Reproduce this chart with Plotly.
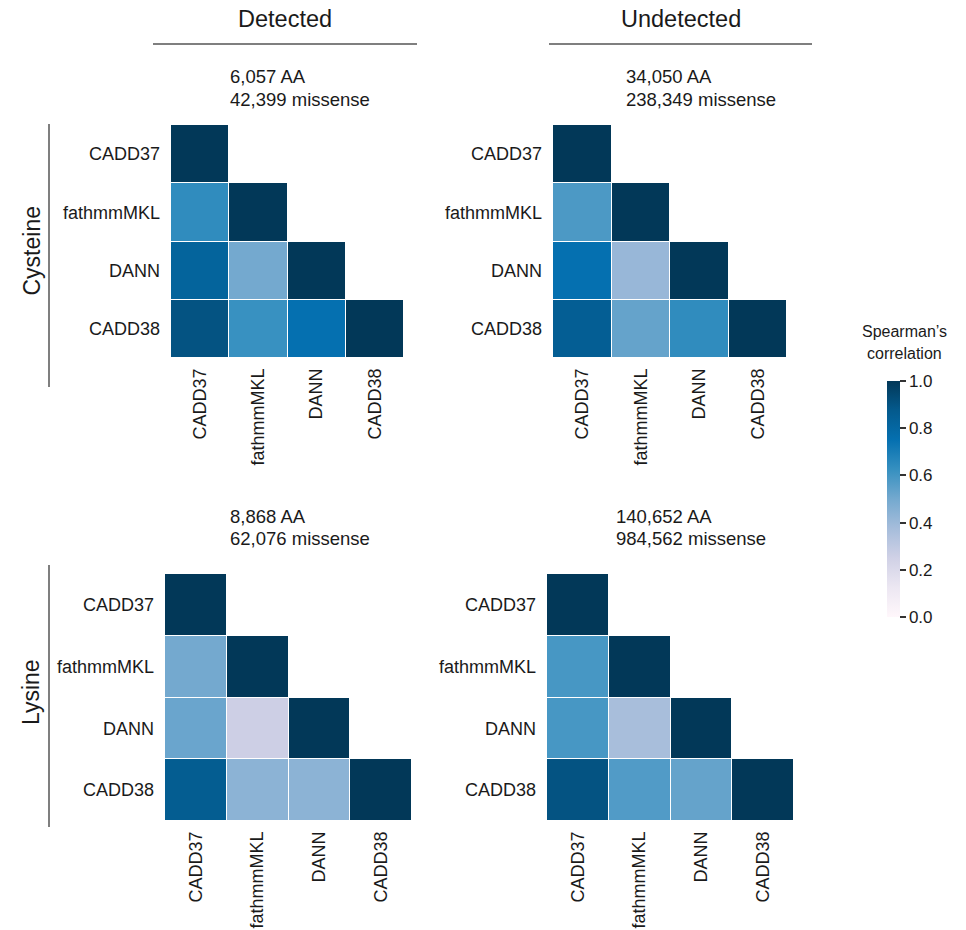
import plotly.graph_objects as go

# Scores compared in every panel (rows and columns in this order)
tools = ["CADD37", "fathmmMKL", "DANN", "CADD38"]

# Lower-triangular Spearman correlations between scores
cys_detected = [
    [1.00, None, None, None],
    [0.64, 1.00, None, None],
    [0.82, 0.50, 1.00, None],
    [0.90, 0.62, 0.75, 1.00],
]
cys_undetected = [
    [1.00, None, None, None],
    [0.58, 1.00, None, None],
    [0.75, 0.41, 1.00, None],
    [0.85, 0.53, 0.64, 1.00],
]
lys_detected = [
    [1.00, None, None, None],
    [0.50, 1.00, None, None],
    [0.52, 0.26, 1.00, None],
    [0.86, 0.44, 0.44, 1.00],
]
lys_undetected = [
    [1.00, None, None, None],
    [0.59, 1.00, None, None],
    [0.59, 0.37, 1.00, None],
    [0.90, 0.57, 0.53, 1.00],
]

col_titles = ["Detected", "Undetected"]
row_titles = ["Cysteine", "Lysine"]
counts = [
    ("6,057 AA", "42,399 missense"),
    ("34,050 AA", "238,349 missense"),
    ("8,868 AA", "62,076 missense"),
    ("140,652 AA", "984,562 missense"),
]
cbar_ticks = [0.0, 0.2, 0.4, 0.6, 0.8, 1.0]

W, H = 966, 930
FONT = "Liberation Sans, Arial, sans-serif"
INK = "#1a1a1a"

pubu = ["#fff7fb", "#ece7f2", "#d0d1e6", "#a6bddb", "#74a9cf",
        "#3690c0", "#0570b0", "#045a8d", "#023858"]
colorscale = [[i / (len(pubu) - 1), c] for i, c in enumerate(pubu)]


def px_x(v):
    return v / W


def px_y(v):
    return 1 - v / H


# Panel boxes in pixels: left, right, top, bottom
boxes = [
    (171, 404, 125, 358),
    (553, 787, 125, 358),
    (165, 412, 574, 821),
    (547, 794, 574, 821),
]
matrices = [cys_detected, cys_undetected, lys_detected, lys_undetected]

fig = go.Figure()
layout = {}
for i, (m, (l, r, t, b)) in enumerate(zip(matrices, boxes)):
    n = "" if i == 0 else str(i + 1)
    fig.add_trace(go.Heatmap(
        z=m, x=tools, y=tools,
        coloraxis="coloraxis",
        xgap=1, ygap=1,
        xaxis="x" + n, yaxis="y" + n,
        hoverongaps=False,
    ))
    layout["xaxis" + n] = dict(
        domain=[px_x(l), px_x(r)], anchor="y" + n,
        showgrid=False, zeroline=False, showline=False, ticks="",
        tickangle=-90, ticklabelstandoff=6,
        tickfont=dict(family=FONT, size=18, color=INK),
        fixedrange=True,
    )
    layout["yaxis" + n] = dict(
        domain=[px_y(b), px_y(t)], anchor="x" + n,
        autorange="reversed",
        showgrid=False, zeroline=False, showline=False, ticks="",
        ticklabelstandoff=10,
        tickfont=dict(family=FONT, size=18, color=INK),
        fixedrange=True,
    )

annotations = []
shapes = []

# Column headers with rules beneath
for title, (x0, x1) in zip(col_titles, [(153, 417), (549, 812)]):
    annotations.append(dict(
        text=title, x=px_x((x0 + x1) / 2), y=px_y(19),
        xref="paper", yref="paper", showarrow=False,
        xanchor="center", yanchor="middle",
        font=dict(family=FONT, size=23.5, color=INK),
    ))
    shapes.append(dict(
        type="line", xref="paper", yref="paper",
        x0=px_x(x0), x1=px_x(x1), y0=px_y(44), y1=px_y(44),
        line=dict(color="#555555", width=1.5),
    ))

# Row headers with vertical rules
for title, (y0, y1) in zip(row_titles, [(124, 387), (565, 827)]):
    annotations.append(dict(
        text=title, x=px_x(31), y=px_y((y0 + y1) / 2 - 4),
        xref="paper", yref="paper", showarrow=False,
        xanchor="center", yanchor="middle", textangle=-90,
        font=dict(family=FONT, size=23, color=INK),
    ))
    shapes.append(dict(
        type="line", xref="paper", yref="paper",
        x0=px_x(49), x1=px_x(49), y0=px_y(y0), y1=px_y(y1),
        line=dict(color="#555555", width=1.5),
    ))

# Residue / variant counts above each panel
count_pos = [(228, 77), (624, 77), (228, 516), (614, 516)]
for (aa, mis), (x, y) in zip(counts, count_pos):
    for k, line in enumerate((aa, mis)):
        annotations.append(dict(
            text=line, x=px_x(x), y=px_y(y + 22 * k),
            xref="paper", yref="paper", showarrow=False,
            xanchor="left", yanchor="middle",
            font=dict(family=FONT, size=18.5, color=INK),
        ))

# Colorbar title
for k, line in enumerate(["Spearman\u2019s", "correlation"]):
    annotations.append(dict(
        text=line, x=px_x(904), y=px_y(331 + 22 * k),
        xref="paper", yref="paper", showarrow=False,
        xanchor="center", yanchor="middle",
        font=dict(family=FONT, size=16, color=INK),
    ))

fig.update_layout(
    width=W, height=H,
    margin=dict(l=0, r=0, t=0, b=0),
    paper_bgcolor="white", plot_bgcolor="white",
    font=dict(family=FONT, color=INK),
    coloraxis=dict(
        cmin=0, cmax=1, colorscale=colorscale,
        colorbar=dict(
            x=px_x(887), xanchor="left",
            y=px_y(499), yanchor="middle",
            len=236 / H, lenmode="fraction",
            thickness=13, ypad=0, xpad=0,
            outlinewidth=0,
            ticks="outside", ticklen=6, tickwidth=1.5, tickcolor="#333333",
            tickvals=cbar_ticks, tickformat=".1f",
            tickfont=dict(family=FONT, size=17, color=INK),
        ),
    ),
    annotations=annotations,
    shapes=shapes,
    showlegend=False,
    **layout,
)

fig.write_html("out.html")
